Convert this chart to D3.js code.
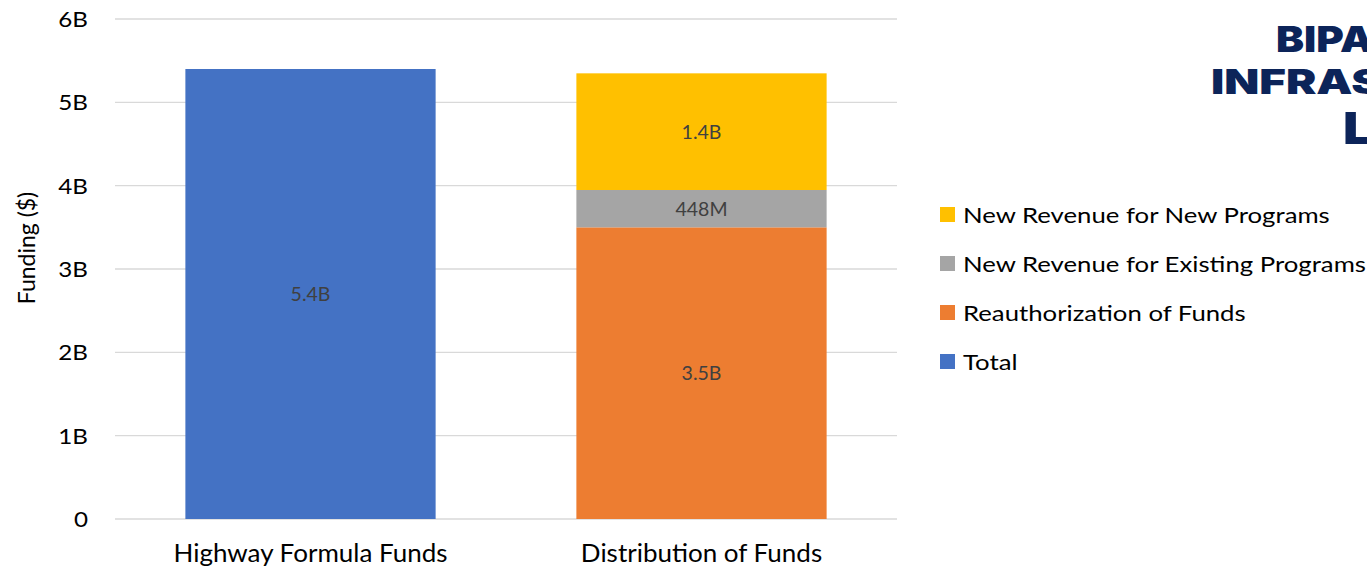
<!DOCTYPE html>
<html>
<head>
<meta charset="utf-8">
<script src="https://cdn.jsdelivr.net/npm/d3@7"></script>
<style>
  body { margin: 0; background: #fff; }
  svg { display: block; font-family: Lato, "Open Sans", sans-serif; }
</style>
</head>
<body>
<div id="chart"></div>
<script>
// data
const categories = ["Highway Formula Funds", "Distribution of Funds"];
const seriesNames = ["Total", "Reauthorization of Funds", "New Revenue for Existing Programs", "New Revenue for New Programs"];
const seriesColors = ["#4472c4", "#ed7d31", "#a5a5a5", "#ffc000"];
// values in billions, per category (stack order bottom -> top)
const totalValues = [5.4, 0];
const reauthValues = [0, 3.5];
const existingValues = [0, 0.448];
const newProgValues = [0, 1.4];
const valueLabels = [["5.4B", "", "", ""], ["", "3.5B", "448M", "1.4B"]];
const yTicks = [0, 1, 2, 3, 4, 5, 6];
const yTickLabels = ["0", "1B", "2B", "3B", "4B", "5B", "6B"];
const legendOrder = ["New Revenue for New Programs", "New Revenue for Existing Programs", "Reauthorization of Funds", "Total"];
const logoLines = ["BIPARTISAN", "INFRASTRUCTURE", "LAW"];

const width = 1367, height = 568;
const margin = { top: 19, left: 115, right: 470, bottom: 49 };
const iwidth = width - margin.left - margin.right;
const iheight = height - margin.top - margin.bottom;

const svg = d3.select("#chart").append("svg")
  .attr("width", width).attr("height", height);

const g = svg.append("g")
  .attr("transform", `translate(${margin.left},${margin.top})`);

const y = d3.scaleLinear().domain([0, 6]).range([iheight, 0]);
const x = d3.scaleBand().domain(categories).range([0, iwidth])
  .paddingInner(0.36).paddingOuter(0.18);

// text that is a bit wider than Lato draws it (the source is stretched)
function wideText(parent, px, py, sx) {
  return parent.append("text")
    .attr("transform", `translate(${px},${py}) scale(${sx},1)`);
}

// gridlines
g.append("g").selectAll("line").data(yTicks).join("line")
  .attr("x1", 0).attr("x2", iwidth)
  .attr("y1", d => y(d)).attr("y2", d => y(d))
  .attr("stroke", "#d9d9d9").attr("stroke-width", 1.3);

// y tick labels
yTicks.forEach((t, i) => {
  wideText(g, -27, y(t), 1.1)
    .attr("dy", "0.36em").attr("text-anchor", "end")
    .attr("font-size", 22).attr("fill", "#000")
    .text(yTickLabels[i]);
});

// y axis title
svg.append("text")
  .attr("transform", "translate(35,248) rotate(-90)")
  .attr("text-anchor", "middle").attr("font-size", 23).attr("fill", "#000")
  .text("Funding ($)");

// stacked data
const rows = categories.map((c, i) => ({
  cat: c,
  "Total": totalValues[i],
  "Reauthorization of Funds": reauthValues[i],
  "New Revenue for Existing Programs": existingValues[i],
  "New Revenue for New Programs": newProgValues[i]
}));
const stack = d3.stack().keys(seriesNames)(rows);

const layers = g.append("g").selectAll("g").data(stack).join("g")
  .attr("fill", (d, i) => seriesColors[i]);

layers.selectAll("rect").data(d => d.filter(s => s[1] - s[0] > 0)).join("rect")
  .attr("x", d => x(d.data.cat))
  .attr("width", x.bandwidth())
  .attr("y", d => y(d[1]))
  .attr("height", d => y(d[0]) - y(d[1]));

// value labels
stack.forEach((layer, si) => {
  layer.forEach((s, ci) => {
    if (s[1] - s[0] <= 0) return;
    g.append("text")
      .attr("x", x(s.data.cat) + x.bandwidth() / 2)
      .attr("y", (y(s[0]) + y(s[1])) / 2)
      .attr("dy", "0.36em").attr("text-anchor", "middle")
      .attr("font-size", 19.5).attr("fill", "#404040")
      .text(valueLabels[ci][si]);
  });
});

// x category labels
categories.forEach(c => {
  wideText(g, x(c) + x.bandwidth() / 2, iheight + 43, 1.04)
    .attr("text-anchor", "middle").attr("font-size", 25).attr("fill", "#000")
    .text(c);
});

// legend
const legend = svg.append("g").attr("transform", "translate(940,215)");
legendOrder.forEach((d, i) => {
  const item = legend.append("g").attr("transform", `translate(0,${i * 49})`);
  item.append("rect").attr("x", 0).attr("y", -8).attr("width", 15).attr("height", 15)
    .attr("fill", seriesColors[seriesNames.indexOf(d)]);
  wideText(item, 23, 0, 1.17)
    .attr("dy", "0.36em").attr("font-size", 22).attr("fill", "#000").text(d);
});

// logo text (clipped by the page edge, as in the source)
const logo = svg.append("g").attr("font-family", "Inter, Lato, sans-serif")
  .attr("font-weight", 900).attr("fill", "#0c2459");
const logoPos = [[1276, 52, 35, 1.2], [1211, 94, 34, 1.34], [1343, 144, 44, 1.2]];
logoLines.forEach((t, i) => {
  wideText(logo, logoPos[i][0], logoPos[i][1], logoPos[i][3])
    .attr("font-size", logoPos[i][2]).text(t);
});
</script>
</body>
</html>
